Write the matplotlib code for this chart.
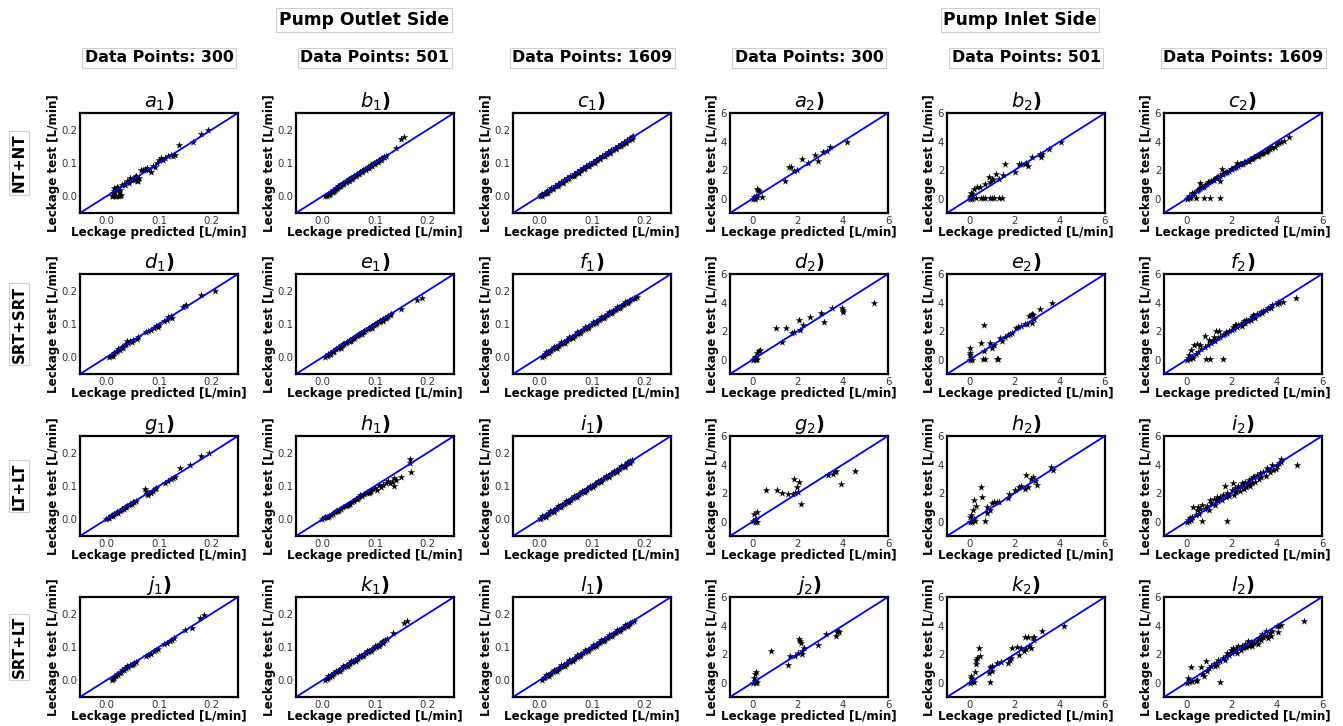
import matplotlib
matplotlib.use("Agg")
import matplotlib.pyplot as plt

# ---------------- data (predicted, test) pairs ----------------
row_labels = ["NT+NT", "SRT+SRT", "LT+LT", "SRT+LT"]
col_headers = ["Data Points: 300", "Data Points: 501", "Data Points: 1609",
               "Data Points: 300", "Data Points: 501", "Data Points: 1609"]
side_titles = ["Pump Outlet Side", "Pump Inlet Side"]
panel_letters = [["a", "b", "c"], ["d", "e", "f"], ["g", "h", "i"], ["j", "k", "l"]]
outlet_ticks = [0.0, 0.1, 0.2]
inlet_ticks = [0, 2, 4, 6]

a1 = [(0.010,0.000),(0.013,0.000),(0.016,0.000),(0.019,0.000),(0.022,0.000),(0.025,0.000),(0.028,0.003),
      (0.012,0.010),(0.015,0.015),(0.018,0.021),(0.021,0.018),(0.024,0.012),(0.014,0.026),(0.017,0.022),
      (0.020,0.028),(0.023,0.024),(0.026,0.020),(0.030,0.034),(0.033,0.038),(0.036,0.035),(0.040,0.045),
      (0.043,0.040),(0.046,0.048),(0.050,0.050),(0.053,0.052),(0.056,0.062),(0.058,0.046),(0.062,0.056),
      (0.066,0.078),(0.070,0.080),(0.074,0.082),(0.078,0.085),(0.080,0.078),(0.084,0.072),(0.088,0.092),
      (0.092,0.088),(0.096,0.100),(0.100,0.108),(0.104,0.116),(0.108,0.110),(0.112,0.115),(0.118,0.120),
      (0.122,0.125),(0.126,0.122),(0.130,0.124),(0.138,0.153),(0.165,0.163),(0.180,0.187),(0.193,0.199),
      (0.045,0.055),(0.055,0.058),(0.060,0.046)]

b1 = [(0.006,0.001),(0.009,0.002),(0.012,0.004),(0.015,0.008),(0.018,0.012),(0.020,0.014),(0.022,0.017),
      (0.024,0.020),(0.026,0.023),(0.028,0.025),(0.030,0.028),(0.032,0.030),(0.034,0.032),(0.036,0.034),
      (0.038,0.037),(0.040,0.039),(0.042,0.041),(0.044,0.043),(0.046,0.045),(0.048,0.048),(0.050,0.050),
      (0.052,0.052),(0.054,0.054),(0.056,0.056),(0.058,0.058),(0.060,0.061),(0.063,0.063),(0.066,0.066),
      (0.069,0.069),(0.072,0.072),(0.075,0.075),(0.078,0.078),(0.081,0.081),(0.084,0.084),(0.087,0.087),
      (0.090,0.090),(0.093,0.093),(0.096,0.097),(0.099,0.100),(0.102,0.103),(0.105,0.106),(0.108,0.109),
      (0.111,0.112),(0.114,0.115),(0.117,0.118),(0.120,0.122),(0.140,0.145),(0.150,0.172),(0.155,0.178),
      (0.015,0.010),(0.021,0.018),(0.027,0.025),(0.033,0.031),(0.039,0.036),(0.045,0.043),(0.051,0.047),
      (0.057,0.053),(0.064,0.060),(0.070,0.066),(0.076,0.072),(0.082,0.079),(0.088,0.085),(0.094,0.092),
      (0.100,0.098),(0.106,0.104),(0.112,0.110),(0.118,0.117),(0.010,0.006),(0.030,0.032),(0.050,0.053)]

c1 = [(0.001,0.002),(0.004,0.003),(0.006,0.007),(0.008,0.006),(0.010,0.011),(0.012,0.010),(0.014,0.015),
      (0.016,0.014),(0.018,0.019),(0.020,0.018),(0.023,0.024),(0.026,0.025),(0.029,0.030),(0.032,0.031),
      (0.035,0.036),(0.038,0.037),(0.041,0.042),(0.044,0.043),(0.047,0.048),(0.050,0.049),(0.053,0.054),
      (0.056,0.055),(0.059,0.060),(0.062,0.061),(0.065,0.066),(0.068,0.067),(0.071,0.072),(0.074,0.073),
      (0.077,0.078),(0.080,0.079),(0.083,0.084),(0.086,0.085),(0.089,0.090),(0.092,0.091),(0.095,0.096),
      (0.098,0.097),(0.101,0.102),(0.104,0.103),(0.107,0.108),(0.110,0.109),(0.113,0.114),(0.116,0.115),
      (0.119,0.120),(0.122,0.121),(0.125,0.126),(0.128,0.127),(0.131,0.132),(0.134,0.133),(0.137,0.138),
      (0.140,0.139),(0.143,0.144),(0.146,0.145),(0.149,0.150),(0.152,0.151),(0.155,0.156),(0.158,0.157),
      (0.161,0.162),(0.164,0.163),(0.167,0.168),(0.170,0.169),(0.173,0.175),(0.176,0.177),(0.178,0.180),
      (0.005,0.001),(0.015,0.011),(0.025,0.021),(0.035,0.031),(0.045,0.041),(0.055,0.051),(0.065,0.061),
      (0.075,0.071),(0.085,0.081),(0.095,0.091),(0.105,0.101),(0.115,0.111),(0.125,0.121),(0.135,0.131),
      (0.145,0.141),(0.155,0.151),(0.165,0.161),(0.175,0.171)]

d1 = [(0.005,0.000),(0.008,0.003),(0.010,0.008),(0.012,0.005),(0.015,0.012),(0.018,0.015),(0.020,0.020),
      (0.022,0.024),(0.025,0.022),(0.028,0.028),(0.030,0.032),(0.032,0.027),(0.035,0.036),(0.038,0.040),
      (0.040,0.048),(0.042,0.044),(0.045,0.050),(0.048,0.046),(0.050,0.052),(0.058,0.055),(0.060,0.060),
      (0.075,0.075),(0.080,0.078),(0.085,0.082),(0.090,0.088),(0.095,0.094),(0.098,0.090),(0.100,0.096),
      (0.110,0.108),(0.115,0.112),(0.118,0.120),(0.122,0.125),(0.125,0.118),(0.145,0.150),(0.150,0.155),
      (0.152,0.158),(0.180,0.188),(0.207,0.198)]

e1 = [(0.005,0.000),(0.008,0.004),(0.011,0.007),(0.014,0.011),(0.017,0.014),(0.020,0.017),(0.023,0.020),
      (0.026,0.024),(0.029,0.027),(0.032,0.030),(0.035,0.033),(0.038,0.036),(0.041,0.039),(0.044,0.042),
      (0.047,0.045),(0.050,0.048),(0.053,0.051),(0.056,0.054),(0.059,0.057),(0.062,0.060),(0.065,0.063),
      (0.068,0.066),(0.071,0.069),(0.074,0.072),(0.077,0.075),(0.080,0.078),(0.083,0.081),(0.086,0.084),
      (0.089,0.087),(0.092,0.090),(0.095,0.093),(0.098,0.096),(0.101,0.099),(0.104,0.102),(0.107,0.105),
      (0.110,0.108),(0.113,0.111),(0.116,0.114),(0.119,0.117),(0.122,0.120),(0.125,0.123),(0.128,0.126),
      (0.131,0.129),(0.010,0.009),(0.020,0.020),(0.030,0.029),(0.040,0.040),(0.050,0.050),(0.060,0.058),
      (0.070,0.070),(0.080,0.080),(0.090,0.088),(0.100,0.100),(0.110,0.110),(0.120,0.118),(0.015,0.009),
      (0.035,0.029),(0.055,0.049),(0.075,0.069),(0.095,0.089),(0.115,0.109),(0.150,0.145),(0.180,0.172),
      (0.190,0.178)]

f1 = [(0.005,0.001),(0.008,0.005),(0.011,0.009),(0.014,0.012),(0.017,0.015),(0.020,0.019),(0.023,0.022),
      (0.026,0.025),(0.029,0.028),(0.032,0.031),(0.035,0.034),(0.038,0.037),(0.041,0.040),(0.044,0.043),
      (0.047,0.046),(0.050,0.049),(0.053,0.052),(0.056,0.055),(0.059,0.058),(0.062,0.061),(0.065,0.064),
      (0.068,0.067),(0.071,0.070),(0.074,0.073),(0.077,0.076),(0.080,0.079),(0.083,0.082),(0.086,0.085),
      (0.089,0.088),(0.092,0.091),(0.095,0.094),(0.098,0.097),(0.101,0.100),(0.104,0.103),(0.107,0.106),
      (0.110,0.109),(0.113,0.112),(0.116,0.115),(0.119,0.118),(0.122,0.121),(0.125,0.124),(0.128,0.127),
      (0.131,0.130),(0.134,0.133),(0.137,0.136),(0.140,0.139),(0.143,0.142),(0.146,0.145),(0.149,0.148),
      (0.152,0.151),(0.155,0.154),(0.158,0.157),(0.161,0.160),(0.164,0.163),(0.167,0.166),(0.170,0.169),
      (0.173,0.172),(0.176,0.174),(0.179,0.177),(0.182,0.179),(0.185,0.180),(0.012,0.016),(0.027,0.030),
      (0.042,0.045),(0.057,0.060),(0.072,0.075),(0.087,0.090),(0.102,0.105),(0.117,0.120),(0.132,0.135),
      (0.147,0.150),(0.162,0.165),(0.018,0.012),(0.033,0.027),(0.048,0.042),(0.063,0.057),(0.078,0.072),
      (0.093,0.087),(0.108,0.102),(0.123,0.117),(0.138,0.132),(0.153,0.147),(0.168,0.162)]

g1 = [(0.000,0.000),(0.003,0.004),(0.006,0.005),(0.008,0.009),(0.010,0.012),(0.013,0.011),(0.015,0.016),
      (0.018,0.018),(0.020,0.022),(0.022,0.020),(0.025,0.026),(0.028,0.027),(0.030,0.032),(0.033,0.031),
      (0.035,0.036),(0.038,0.037),(0.040,0.041),(0.043,0.042),(0.045,0.046),(0.048,0.047),(0.050,0.051),
      (0.053,0.052),(0.056,0.055),(0.074,0.090),(0.076,0.085),(0.078,0.075),(0.080,0.072),(0.085,0.080),
      (0.088,0.085),(0.092,0.090),(0.095,0.095),(0.112,0.110),(0.118,0.115),(0.122,0.120),(0.126,0.124),
      (0.130,0.128),(0.140,0.155),(0.158,0.162),(0.180,0.190),(0.195,0.200)]

h1 = [(0.000,0.000),(0.004,0.003),(0.008,0.006),(0.012,0.010),(0.016,0.013),(0.020,0.017),(0.024,0.021),
      (0.028,0.025),(0.032,0.029),(0.036,0.032),(0.040,0.036),(0.044,0.040),(0.048,0.043),(0.052,0.047),
      (0.056,0.051),(0.060,0.055),(0.064,0.060),(0.068,0.063),(0.072,0.073),(0.076,0.070),(0.080,0.075),
      (0.084,0.080),(0.088,0.078),(0.092,0.086),(0.096,0.090),(0.100,0.095),(0.104,0.088),(0.108,0.102),
      (0.112,0.098),(0.116,0.103),(0.120,0.110),(0.124,0.115),(0.128,0.108),(0.132,0.113),(0.136,0.123),
      (0.137,0.100),(0.140,0.118),(0.150,0.128),(0.166,0.180),(0.167,0.170),(0.168,0.143),(0.010,0.007),
      (0.030,0.026),(0.050,0.045),(0.070,0.066),(0.090,0.083),(0.006,0.008),(0.026,0.024),(0.046,0.044),
      (0.066,0.062)]

i1 = [(0.001,0.001),(0.004,0.004),(0.007,0.007),(0.010,0.010),(0.013,0.013),(0.016,0.016),(0.019,0.019),
      (0.022,0.022),(0.025,0.025),(0.028,0.028),(0.031,0.031),(0.034,0.034),(0.037,0.037),(0.040,0.040),
      (0.043,0.043),(0.046,0.046),(0.049,0.049),(0.052,0.052),(0.055,0.055),(0.058,0.058),(0.061,0.061),
      (0.064,0.064),(0.067,0.067),(0.070,0.070),(0.073,0.073),(0.076,0.076),(0.079,0.079),(0.082,0.082),
      (0.085,0.085),(0.088,0.088),(0.091,0.091),(0.094,0.094),(0.097,0.097),(0.100,0.100),(0.103,0.103),
      (0.106,0.106),(0.109,0.109),(0.112,0.112),(0.115,0.115),(0.118,0.118),(0.121,0.121),(0.124,0.124),
      (0.127,0.127),(0.130,0.130),(0.133,0.133),(0.136,0.136),(0.139,0.139),(0.142,0.142),(0.145,0.145),
      (0.148,0.148),(0.151,0.150),(0.154,0.153),(0.157,0.156),(0.160,0.160),(0.163,0.163),(0.166,0.168),
      (0.169,0.172),(0.172,0.176),(0.175,0.178),(0.006,0.010),(0.021,0.025),(0.036,0.040),(0.051,0.055),
      (0.066,0.070),(0.081,0.085),(0.096,0.100),(0.111,0.115),(0.126,0.130),(0.141,0.145),(0.156,0.160),
      (0.012,0.008),(0.027,0.023),(0.042,0.038),(0.057,0.053),(0.072,0.068),(0.087,0.083),(0.102,0.098),
      (0.117,0.113),(0.132,0.128),(0.147,0.143),(0.162,0.158),(0.172,0.168)]

j1 = [(0.010,0.000),(0.012,0.004),(0.015,0.008),(0.018,0.012),(0.020,0.018),(0.022,0.016),(0.025,0.022),
      (0.028,0.026),(0.030,0.030),(0.033,0.032),(0.035,0.036),(0.038,0.038),(0.040,0.042),(0.042,0.040),
      (0.045,0.046),(0.048,0.047),(0.050,0.050),(0.053,0.052),(0.056,0.056),(0.075,0.072),(0.080,0.075),
      (0.085,0.080),(0.090,0.088),(0.095,0.092),(0.098,0.095),(0.110,0.108),(0.115,0.112),(0.120,0.118),
      (0.125,0.122),(0.128,0.126),(0.150,0.152),(0.162,0.158),(0.178,0.188),(0.185,0.195)]

k1 = [(0.005,0.000),(0.008,0.004),(0.011,0.008),(0.014,0.011),(0.017,0.015),(0.020,0.018),(0.023,0.022),
      (0.026,0.025),(0.029,0.028),(0.032,0.031),(0.035,0.034),(0.038,0.037),(0.041,0.040),(0.044,0.043),
      (0.047,0.046),(0.050,0.049),(0.053,0.052),(0.056,0.055),(0.059,0.058),(0.062,0.061),(0.065,0.064),
      (0.068,0.067),(0.071,0.070),(0.074,0.073),(0.077,0.076),(0.080,0.079),(0.083,0.082),(0.086,0.086),
      (0.089,0.089),(0.092,0.092),(0.095,0.095),(0.098,0.098),(0.101,0.101),(0.104,0.104),(0.107,0.107),
      (0.110,0.110),(0.113,0.114),(0.116,0.118),(0.119,0.121),(0.122,0.125),(0.010,0.012),(0.025,0.028),
      (0.040,0.043),(0.055,0.058),(0.070,0.073),(0.085,0.088),(0.100,0.103),(0.115,0.113),(0.018,0.012),
      (0.033,0.027),(0.048,0.042),(0.063,0.057),(0.078,0.073),(0.093,0.089),(0.108,0.104),(0.135,0.142),
      (0.155,0.172),(0.160,0.178)]

l1 = [(0.005,0.002),(0.008,0.006),(0.011,0.009),(0.014,0.013),(0.017,0.016),(0.020,0.019),(0.023,0.022),
      (0.026,0.025),(0.029,0.028),(0.032,0.031),(0.035,0.034),(0.038,0.037),(0.041,0.040),(0.044,0.043),
      (0.047,0.046),(0.050,0.049),(0.053,0.052),(0.056,0.055),(0.059,0.058),(0.062,0.061),(0.065,0.064),
      (0.068,0.067),(0.071,0.070),(0.074,0.073),(0.077,0.076),(0.080,0.079),(0.083,0.082),(0.086,0.085),
      (0.089,0.088),(0.092,0.091),(0.095,0.094),(0.098,0.097),(0.101,0.100),(0.104,0.103),(0.107,0.106),
      (0.110,0.109),(0.113,0.112),(0.116,0.115),(0.119,0.118),(0.122,0.121),(0.125,0.124),(0.128,0.127),
      (0.131,0.130),(0.134,0.133),(0.137,0.136),(0.140,0.139),(0.143,0.142),(0.146,0.145),(0.149,0.148),
      (0.152,0.151),(0.155,0.154),(0.158,0.157),(0.161,0.160),(0.164,0.163),(0.167,0.166),(0.170,0.169),
      (0.173,0.172),(0.176,0.175),(0.179,0.179),(0.012,0.015),(0.027,0.030),(0.042,0.045),(0.057,0.060),
      (0.072,0.075),(0.087,0.090),(0.102,0.105),(0.117,0.120),(0.132,0.135),(0.147,0.150),(0.162,0.165),
      (0.018,0.013),(0.033,0.028),(0.048,0.043),(0.063,0.058),(0.078,0.073),(0.093,0.088),(0.108,0.103),
      (0.123,0.118),(0.138,0.133),(0.153,0.148),(0.168,0.163)]

a2 = [(0.00,0.00),(0.05,0.10),(0.10,0.05),(0.15,0.20),(0.20,0.70),(0.25,0.60),(0.30,0.55),(0.40,0.10),
      (0.10,0.00),(0.20,0.10),(1.45,1.25),(1.60,2.20),(1.70,2.20),(1.85,1.95),(1.95,2.00),(2.20,2.80),
      (2.45,2.50),(2.75,3.05),(2.90,2.65),(3.10,3.25),(3.30,3.35),(3.45,3.60),(4.20,4.00)]

b2 = [(0.00,0.00),(0.02,0.10),(0.05,0.20),(0.08,0.05),(0.10,0.30),(0.05,0.40),(0.12,0.00),(0.30,0.05),
      (0.50,0.05),(0.60,0.05),(0.70,0.05),(0.90,0.05),(1.00,0.05),(1.10,0.05),(1.30,0.05),(1.45,0.05),
      (0.20,0.70),(0.35,0.80),(0.45,0.85),(0.70,1.00),(0.85,1.50),(0.90,1.20),(1.00,1.40),(1.05,1.30),
      (1.15,1.75),(1.30,1.35),(1.50,1.65),(1.55,2.40),(2.00,1.90),(2.20,2.40),(2.30,2.45),(2.45,2.40),
      (2.50,2.50),(2.60,2.30),(2.75,2.90),(3.10,3.10),(3.15,2.95),(3.20,3.10),(3.50,3.50),(4.05,4.00)]

c2 = [(0.00,0.00),(0.05,0.05),(0.10,0.10),(0.15,0.05),(0.20,0.15),(0.10,0.20),(0.30,0.35),(0.35,0.40),
      (0.45,0.55),(0.50,0.60),(0.60,0.75),(0.70,0.85),(0.80,0.95),(0.90,1.05),(1.00,1.15),(1.10,1.25),
      (1.20,1.30),(1.30,1.45),(1.40,1.50),(1.50,1.60),(1.60,1.70),(1.70,1.80),(1.80,1.90),(1.90,1.95),
      (2.00,2.05),(2.10,2.15),(2.20,2.25),(2.30,2.30),(2.40,2.40),(2.50,2.45),(2.60,2.55),(2.70,2.65),
      (2.80,2.75),(2.90,2.80),(3.00,2.90),(3.10,3.00),(3.20,3.05),(3.30,3.15),(3.40,3.20),(3.50,3.30),
      (3.60,3.40),(3.70,3.50),(3.80,3.55),(3.90,3.65),(4.00,3.80),(4.10,3.90),(4.20,4.00),(4.30,4.05),
      (4.55,4.35),(0.25,0.40),(0.55,0.70),(0.75,0.85),(0.95,1.15),(1.15,1.30),(1.35,1.50),(1.55,1.70),
      (1.75,1.85),(1.95,2.05),(2.15,2.25),(2.35,2.40),(2.55,2.60),(2.75,2.65),(2.95,2.85),(3.15,3.00),
      (3.35,3.20),(3.55,3.35),(3.75,3.60),(0.40,0.05),(0.75,0.05),(1.05,0.05),(1.50,0.05),(0.60,1.10),
      (1.55,2.10),(1.50,1.25),(2.25,2.50)]

d2 = [(0.00,0.00),(0.05,0.05),(0.10,0.20),(0.15,0.00),(0.20,0.05),(0.20,0.50),(0.30,0.60),(0.35,0.70),
      (0.10,0.10),(1.05,2.20),(1.30,1.25),(1.50,2.20),(1.75,1.90),(1.85,1.95),(2.05,2.80),(2.10,2.10),
      (2.25,2.45),(2.55,3.00),(3.05,3.25),(3.15,2.65),(3.50,3.60),(3.95,3.60),(4.00,3.50),(4.00,3.35),
      (5.40,4.00)]

e2 = [(0.00,0.00),(0.00,0.30),(0.00,0.50),(0.00,0.80),(0.05,0.10),(0.10,0.00),(0.60,0.05),(0.70,0.05),
      (1.20,0.05),(1.25,0.05),(0.50,1.15),(0.65,2.40),(0.65,0.60),(0.90,1.20),(1.00,0.80),(1.10,1.00),
      (1.35,1.50),(1.45,1.30),(1.55,1.60),(1.70,1.75),(1.80,1.80),(1.90,1.90),(2.05,2.20),(2.15,2.30),
      (2.30,2.35),(2.45,2.50),(2.55,2.50),(2.65,3.05),(2.70,3.10),(2.75,3.20),(2.80,3.15),(2.75,2.60),
      (2.85,2.85),(3.10,3.55),(3.65,3.95)]

f2 = [(0.00,0.00),(0.05,0.10),(0.10,0.30),(0.15,0.05),(0.20,0.70),(0.25,0.20),(0.30,0.10),(0.35,1.05),
      (0.40,0.40),(0.45,1.10),(0.50,0.55),(0.60,1.05),(0.65,0.75),(0.80,1.65),(0.80,0.90),(0.85,0.05),
      (0.95,1.00),(1.00,1.40),(1.05,0.05),(1.10,1.15),(1.20,1.60),(1.25,1.30),(1.30,2.00),(1.40,1.50),
      (1.45,2.00),(1.50,1.60),(1.60,0.05),(1.60,1.70),(1.70,1.80),(1.80,1.85),(1.90,2.00),(2.00,2.10),
      (2.05,2.30),(2.10,2.15),(2.20,2.45),(2.25,2.30),(2.30,2.40),(2.40,2.50),(2.45,2.35),(2.50,2.60),
      (2.60,2.55),(2.65,2.75),(2.70,2.70),(2.80,2.85),(2.85,2.80),(2.90,3.00),(3.00,3.05),(3.05,2.95),
      (3.10,3.20),(3.20,3.20),(3.30,3.35),(3.40,3.40),(3.50,3.50),(3.60,3.60),(3.70,3.70),(3.75,3.60),
      (3.80,3.85),(4.00,3.90),(4.05,4.05),(4.10,4.00),(4.25,4.05),(4.85,4.35),(1.15,1.35),(1.75,1.95),
      (2.15,2.40),(2.55,2.70),(2.95,3.10),(3.35,3.30)]

g2 = [(0.00,0.05),(0.05,0.55),(0.10,0.10),(0.15,0.20),(0.20,0.00),(0.20,0.70),(0.10,0.00),(0.60,2.20),
      (1.10,2.20),(1.30,2.00),(1.55,1.95),(1.80,1.95),(1.85,3.00),(1.90,2.00),(1.95,2.40),(2.05,2.80),
      (2.00,2.10),(2.15,1.25),(3.35,3.25),(3.55,3.35),(3.65,3.50),(3.70,3.55),(3.90,2.65),(4.55,3.55)]

h2 = [(0.00,0.00),(0.00,0.30),(0.05,0.50),(0.10,0.00),(0.15,0.80),(0.20,1.50),(0.30,1.10),(0.20,0.20),
      (0.25,0.05),(0.50,2.40),(0.55,1.75),(0.70,0.05),(0.75,1.00),(0.75,0.60),(0.90,0.85),(1.00,1.30),
      (1.10,1.35),(1.20,1.40),(1.30,1.40),(1.70,1.65),(1.75,1.95),(2.00,2.25),(2.20,2.45),(2.30,2.50),
      (2.45,2.30),(2.50,3.25),(2.60,2.40),(2.70,3.00),(2.80,3.10),(2.90,2.85),(3.00,2.55),(3.60,3.85),
      (3.70,3.60)]

i2 = [(0.00,0.00),(0.05,0.10),(0.10,0.05),(0.15,0.25),(0.20,0.15),(0.25,0.30),(0.30,1.05),(0.40,0.50),
      (0.45,0.80),(0.50,1.05),(0.55,0.55),(0.60,0.90),(0.67,0.05),(0.70,1.20),(0.80,0.90),(0.90,1.10),
      (1.00,0.85),(1.05,1.50),(1.10,1.30),(1.20,1.60),(1.25,1.20),(1.35,1.70),(1.40,1.45),(1.50,1.75),
      (1.55,1.50),(1.60,1.90),(1.70,2.50),(1.75,1.70),(1.78,0.05),(1.80,2.00),(1.90,1.80),(2.00,2.20),
      (2.07,2.70),(2.10,1.90),(2.15,2.35),(2.20,2.05),(2.30,2.50),(2.35,2.15),(2.40,2.40),(2.50,2.60),
      (2.55,2.30),(2.60,2.80),(2.65,2.45),(2.70,2.65),(2.75,2.90),(2.80,2.50),(2.85,3.00),(2.90,2.70),
      (3.00,3.10),(3.05,2.80),(3.10,3.30),(3.20,3.00),(3.25,3.40),(3.30,3.15),(3.40,3.50),(3.50,3.20),
      (3.60,3.60),(3.70,3.45),(3.80,4.00),(3.85,3.60),(3.95,3.70),(4.00,3.90),(4.10,4.10),(4.19,4.39),
      (4.20,4.20),(4.89,4.00),(1.30,1.55),(2.45,2.70),(2.95,3.15),(3.55,3.75)]

j2 = [(0.00,0.00),(0.05,0.30),(0.10,0.60),(0.15,0.75),(0.20,0.05),(0.10,0.10),(0.15,0.00),(0.80,2.20),
      (1.55,1.25),(1.65,1.90),(1.90,1.90),(2.00,2.10),(2.05,3.05),(2.10,2.90),(2.15,2.80),(2.20,2.00),
      (2.20,2.20),(2.30,2.45),(2.90,2.65),(3.25,3.40),(3.70,3.25),(3.75,3.55),(3.80,3.60),(3.85,3.55)]

k2 = [(0.00,0.00),(0.05,0.30),(0.05,0.50),(0.10,0.05),(0.15,0.20),(0.20,0.05),(0.25,0.75),(0.30,1.30),
      (0.30,1.60),(0.35,1.75),(0.40,2.45),(0.45,1.85),(0.85,0.65),(0.90,0.05),(0.90,1.10),(1.00,1.20),
      (1.00,0.85),(1.20,1.35),(1.40,1.45),(1.70,1.35),(1.80,1.60),(1.85,1.70),(1.90,2.45),(2.10,2.50),
      (2.20,1.95),(2.30,2.40),(2.40,2.25),(2.45,3.20),(2.50,2.35),(2.60,3.20),(2.65,2.55),(2.70,2.45),
      (2.80,3.10),(2.85,3.00),(2.85,3.20),(3.20,3.60),(4.20,3.95)]

l2 = [(0.00,0.00),(0.05,0.30),(0.10,0.05),(0.15,0.15),(0.20,1.10),(0.25,0.10),(0.40,0.10),(0.45,0.20),
      (0.65,1.10),(0.70,0.60),(0.75,0.50),(0.85,1.55),(0.90,0.80),(1.00,1.00),(1.10,1.15),(1.20,1.30),
      (1.30,1.40),(1.35,1.25),(1.40,1.60),(1.50,0.05),(1.50,1.50),(1.60,1.70),(1.70,1.60),(1.75,1.90),
      (1.80,2.10),(1.90,1.95),(1.95,2.30),(2.00,2.10),(2.05,2.45),(2.10,2.20),(2.20,2.40),(2.25,2.10),
      (2.30,2.55),(2.40,2.30),(2.45,2.60),(2.50,2.40),(2.60,2.70),(2.65,2.50),(2.70,2.90),(2.75,2.60),
      (2.80,2.75),(2.90,2.60),(3.00,2.80),(3.10,2.95),(3.15,2.70),(3.20,3.10),(3.30,3.00),(3.35,3.40),
      (3.40,3.20),(3.50,3.60),(3.55,3.30),(3.60,3.10),(3.70,3.50),(3.75,3.30),(3.80,3.65),(4.00,3.95),
      (4.05,3.55),(4.10,4.00),(4.20,4.05),(5.20,4.35),(1.25,1.15),(2.15,2.25),(2.55,2.50),(2.85,2.85),
      (3.45,3.35)]

grid_data = [[a1, b1, c1, a2, b2, c2],
             [d1, e1, f1, d2, e2, f2],
             [g1, h1, i1, g2, h2, i2],
             [j1, k1, l1, j2, k2, l2]]

# ---------------- layout ----------------
W, H = 1343, 726
fig = plt.figure(figsize=(W / 100, H / 100), dpi=100)
lefts = [80, 296, 513, 730, 947, 1164]
tops = [113, 274, 436, 597]
aw, ah = 158, 100

box = dict(boxstyle="square,pad=0.15", facecolor="white", edgecolor="#d0d0d0", linewidth=0.8)

for r in range(4):
    for c in range(6):
        ax = fig.add_axes([lefts[c] / W, 1 - (tops[r] + ah) / H, aw / W, ah / H])
        pts = grid_data[r][c]
        xs = [p[0] for p in pts]
        ys = [p[1] for p in pts]
        if c < 3:
            lo, hi, ticks = -0.05, 0.25, outlet_ticks
        else:
            lo, hi, ticks = -1, 6, inlet_ticks
        ax.scatter(xs, ys, marker="*", s=32, color="black", linewidths=0, zorder=2)
        ax.plot([lo, hi], [lo, hi], color="blue", lw=1.3, zorder=3)
        ax.set_xlim(lo, hi)
        ax.set_ylim(lo, hi)
        ax.set_xticks(ticks)
        ax.set_yticks(ticks)
        ax.tick_params(length=0, pad=2, labelsize=7.3, labelcolor="#333333")
        for s in ax.spines.values():
            s.set_linewidth(1.6)
            s.set_color("black")
        ax.set_xlabel("Leckage predicted [L/min]", fontsize=8.6, fontweight="bold", labelpad=0)
        ax.set_ylabel("Leckage test [L/min]", fontsize=8.6, fontweight="bold", labelpad=1)
        letter = panel_letters[r][c % 3]
        idx = 1 if c < 3 else 2
        ax.set_title(r"$%s_{%d}$)" % (letter, idx), fontsize=14, fontweight="bold", pad=4)

for r in range(4):
    fig.text(19 / W, 1 - (tops[r] + ah / 2) / H, row_labels[r], rotation=90, ha="center", va="center",
             fontsize=10.8, fontweight="bold", bbox=box)

for c in range(6):
    fig.text((lefts[c] + aw / 2) / W, 1 - 58 / H, col_headers[c], ha="center", va="center",
             fontsize=11.4, fontweight="bold", bbox=box)

fig.text(364 / W, 1 - 20 / H, side_titles[0], ha="center", va="center", fontsize=12.3,
         fontweight="bold", bbox=box)
fig.text(1020 / W, 1 - 20 / H, side_titles[1], ha="center", va="center", fontsize=12.3,
         fontweight="bold", bbox=box)

fig.savefig("out.png", dpi=100, facecolor="white")
